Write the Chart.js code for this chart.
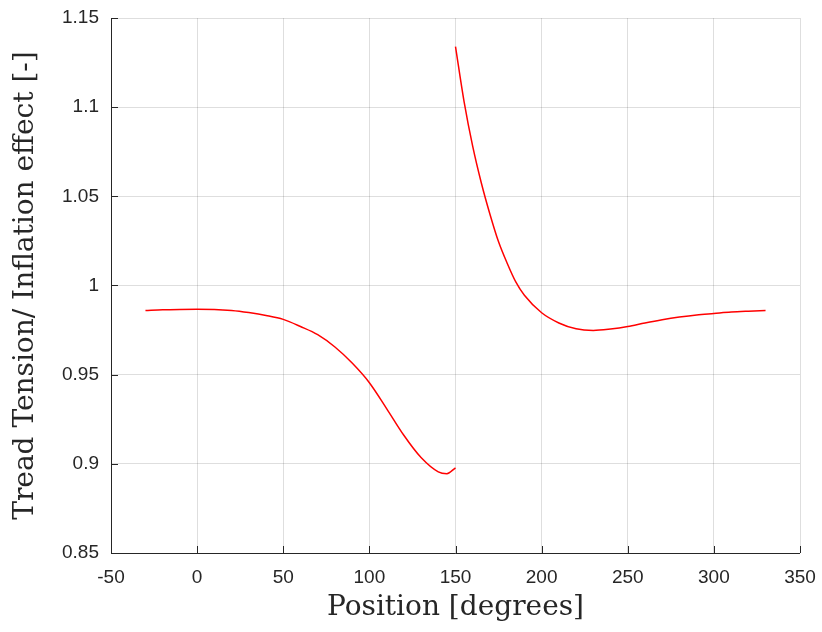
<!DOCTYPE html>
<html>
<head>
<meta charset="utf-8">
<script src="https://cdn.jsdelivr.net/npm/chart.js@4/dist/chart.umd.min.js"></script>
<style>
  html, body { margin: 0; padding: 0; background: #fff; }
  #wrap { width: 822px; height: 632px; }
</style>
</head>
<body>
<div id="wrap"><canvas id="chart"></canvas></div>
<script>
// values (position in degrees, tension ratio)
const posBefore = [-30, -20, -10, 0, 10, 20, 30, 40, 50, 60, 70, 80, 90, 100, 110, 120, 130, 140, 145, 150];
const tensionBefore = [0.986, 0.9864, 0.9866, 0.9867, 0.9866, 0.986, 0.9848, 0.9832, 0.981, 0.977, 0.9724, 0.9655, 0.9565, 0.9455, 0.931, 0.916, 0.9035, 0.8955, 0.8945, 0.8978];

const posAfter = [150, 155, 160, 165, 170, 175, 180, 185, 190, 200, 210, 220, 230, 240, 250, 260, 270, 280, 290, 300, 310, 320, 330];
const tensionAfter = [1.134, 1.103, 1.078, 1.0575, 1.040, 1.0245, 1.0125, 1.002, 0.9945, 0.9847, 0.979, 0.9757, 0.9748, 0.9756, 0.977, 0.979, 0.9808, 0.9823, 0.9835, 0.9843, 0.9851, 0.9856, 0.986];

const xTicks = { min: -50, max: 350, step: 50 };
const yTicks = { min: 0.85, max: 1.15, step: 0.05 };

const toPoints = (xs, ys) => xs.map((x, i) => ({ x: x, y: ys[i] }));

// matlab style axes: black left/bottom lines with ticks pointing inwards
const innerTicks = {
  id: 'innerTicks',
  afterDraw(chart) {
    const ctx = chart.ctx;
    const a = chart.chartArea;
    const xs = chart.scales.x, ys = chart.scales.y;
    ctx.save();
    ctx.strokeStyle = '#262626';
    ctx.lineWidth = 1;
    ctx.beginPath();
    ctx.moveTo(a.left + 0.5, a.top);
    ctx.lineTo(a.left + 0.5, a.bottom + 0.5);
    ctx.lineTo(a.right, a.bottom + 0.5);
    xs.ticks.forEach(t => {
      const px = Math.round(xs.getPixelForValue(t.value)) + 0.5;
      ctx.moveTo(px, a.bottom);
      ctx.lineTo(px, a.bottom - 7);
    });
    ys.ticks.forEach(t => {
      const py = Math.round(ys.getPixelForValue(t.value)) + 0.5;
      ctx.moveTo(a.left, py);
      ctx.lineTo(a.left + 7, py);
    });
    ctx.stroke();
    ctx.restore();
  }
};

const lineStyle = {
  borderColor: '#ff0000',
  borderWidth: 1.5,
  pointRadius: 0,
  showLine: true,
  fill: false,
  cubicInterpolationMode: 'monotone'
};

const tickFont = { family: 'Liberation Sans', size: 19 };
const titleFont = { family: 'DejaVu Serif', size: 28 };

new Chart(document.getElementById('chart'), {
  type: 'scatter',
  data: {
    datasets: [
      Object.assign({ data: toPoints(posBefore, tensionBefore) }, lineStyle),
      Object.assign({ data: toPoints(posAfter, tensionAfter) }, lineStyle)
    ]
  },
  options: {
    responsive: true,
    maintainAspectRatio: false,
    animation: false,
    layout: { padding: { top: 18, right: 22, left: 0, bottom: 0 } },
    plugins: { legend: { display: false }, tooltip: { enabled: false } },
    scales: {
      x: {
        type: 'linear',
        min: xTicks.min, max: xTicks.max,
        afterFit: s => { s.height = 79; s.paddingLeft = 0; s.paddingRight = 0; },
        border: { display: false },
        grid: { color: 'rgba(0,0,0,0.13)', drawTicks: false },
        ticks: {
          stepSize: xTicks.step,
          padding: 13,
          color: '#262626',
          font: tickFont,
          maxRotation: 0
        },
        title: {
          display: true,
          text: 'Position [degrees]',
          color: '#262626',
          font: titleFont,
          padding: { top: 0, bottom: 7 }
        }
      },
      y: {
        min: yTicks.min, max: yTicks.max,
        afterFit: s => { s.width = 111; s.paddingTop = 0; s.paddingBottom = 0; },
        border: { display: false },
        grid: { color: 'rgba(0,0,0,0.13)', drawTicks: false },
        ticks: {
          stepSize: yTicks.step,
          padding: 12,
          color: '#262626',
          font: tickFont,
          callback: v => Number(v.toFixed(2)).toString()
        },
        title: {
          display: true,
          text: 'Tread Tension/ Inflation effect [-]',
          color: '#262626',
          font: titleFont,
          padding: { top: 9, bottom: 0 }
        }
      }
    }
  },
  plugins: [innerTicks]
});
</script>
</body>
</html>
